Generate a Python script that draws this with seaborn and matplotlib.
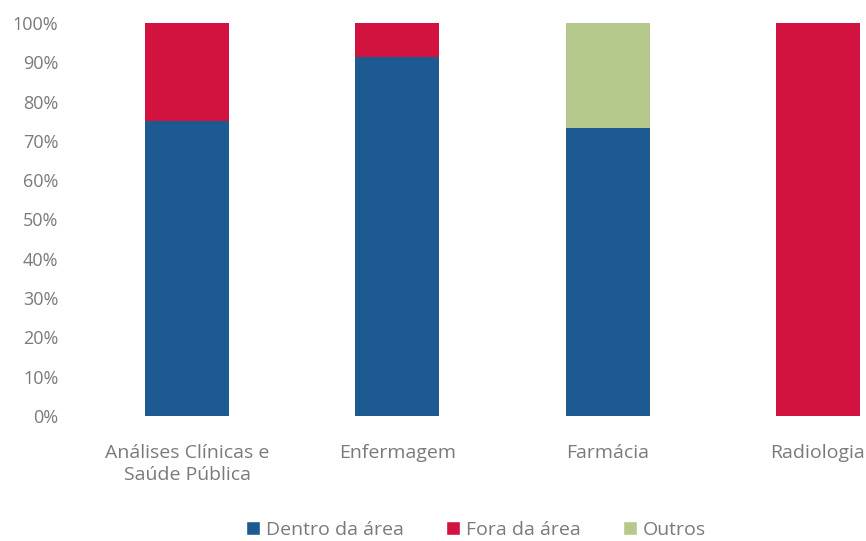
import pandas as pd
import matplotlib
matplotlib.use("Agg")
import matplotlib.pyplot as plt
import seaborn as sns
from matplotlib.patches import Patch

# data (share of graduates, %)
cursos = ["Análises Clínicas e\nSaúde Pública", "Enfermagem", "Farmácia", "Radiologia"]
dentro = [75.0, 91.3, 73.3, 0.0]
fora = [25.0, 8.7, 0.0, 100.0]
outros = [0.0, 0.0, 26.7, 0.0]

cores = {"Dentro da área": "#1c5a91", "Fora da área": "#d2123f", "Outros": "#b6c98c"}

df = pd.DataFrame({"curso": cursos, "dentro": dentro, "fora": fora, "outros": outros})
df["c_dentro"] = df["dentro"] / 100
df["c_fora"] = (df["dentro"] + df["fora"]) / 100
df["c_outros"] = (df["dentro"] + df["fora"] + df["outros"]) / 100

sns.set_style("white")
plt.rcParams["font.family"] = ["Open Sans", "DejaVu Sans"]

fig = plt.figure(figsize=(8.66, 5.41), dpi=100)
ax = fig.add_axes([82 / 866, 1 - 416 / 541, 841 / 866, 393 / 541])

# stacked bars: draw cumulative totals from top to bottom
for col, nome in [("c_outros", "Outros"), ("c_fora", "Fora da área"), ("c_dentro", "Dentro da área")]:
    sns.barplot(data=df, x="curso", y=col, color=cores[nome], width=0.4,
                saturation=1, ax=ax, linewidth=0)

ax.set_ylim(0, 1)
ax.set_yticks([i / 10 for i in range(11)])
ax.set_yticklabels([f"{i * 10}%" for i in range(11)])
ax.set_xlabel("")
ax.set_ylabel("")
sns.despine(ax=ax, left=True, bottom=True)
ax.tick_params(axis="both", length=0, colors="#7a7a7a")
ax.tick_params(axis="y", pad=17, labelsize=13)
ax.tick_params(axis="x", pad=20, labelsize=14)
for lab in ax.get_xticklabels():
    lab.set_linespacing(1.3)

handles = [Patch(facecolor=c, label=n) for n, c in cores.items()]
fig.legend(handles=handles, loc="center", bbox_to_anchor=(476 / 866, 1 - 530 / 541),
           ncol=3, frameon=False, fontsize=14, handlelength=0.7, handleheight=0.7,
           handletextpad=0.3, columnspacing=2.2, labelcolor="#7a7a7a")

fig.savefig("out.png", dpi=100)
